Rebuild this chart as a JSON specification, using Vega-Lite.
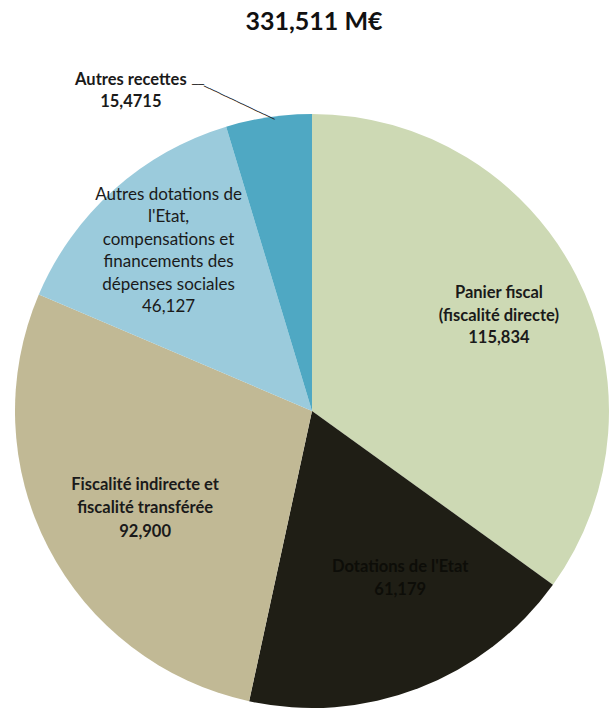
{
  "$schema": "https://vega.github.io/schema/vega-lite/v6.json",
  "width": 600,
  "height": 602,
  "autosize": "none",
  "padding": {"left": 12, "top": 110, "right": 0, "bottom": 1},
  "background": "white",
  "title": {"text": "331,511 M€", "font": "Lato", "fontSize": 25, "fontWeight": "bold", "color": "#111111", "anchor": "middle", "frame": "group", "offset": 37, "dx": 2},
  "view": {"stroke": null},
  "data": {"values": [
    {"categorie": "Panier fiscal (fiscalité directe)", "valeur": 115.834, "ordre": 1, "libelle": ["Panier fiscal", "(fiscalité directe)", "115,834"]},
    {"categorie": "Dotations de l'Etat", "valeur": 61.179, "ordre": 2, "libelle": ["Dotations de l'Etat", "61,179"]},
    {"categorie": "Fiscalité indirecte et fiscalité transférée", "valeur": 92.9, "ordre": 3, "libelle": ["Fiscalité indirecte et", "fiscalité transférée", "92,900"]},
    {"categorie": "Autres dotations de l'Etat, compensations et financements des dépenses sociales", "valeur": 46.127, "ordre": 4, "libelle": ["Autres dotations de", "l'Etat,", "compensations et", "financements des", "dépenses sociales", "46,127"]},
    {"categorie": "Autres recettes", "valeur": 15.4715, "ordre": 5, "libelle": ["Autres recettes", "15,4715"]}
  ]},
  "encoding": {
    "theta": {"field": "valeur", "type": "quantitative", "stack": true},
    "order": {"field": "ordre", "type": "quantitative", "sort": "ascending"}
  },
  "layer": [
    {
      "mark": {"type": "arc", "outerRadius": 297, "strokeWidth": 0},
      "encoding": {
        "color": {
          "field": "categorie", "type": "nominal", "legend": null,
          "scale": {
            "domain": ["Panier fiscal (fiscalité directe)", "Dotations de l'Etat", "Fiscalité indirecte et fiscalité transférée", "Autres dotations de l'Etat, compensations et financements des dépenses sociales", "Autres recettes"],
            "range": ["#CDD9B4", "#1F1E15", "#C1B995", "#9BCBDC", "#4FA8C3"]
          }
        }
      }
    },
    {
      "mark": {"type": "text", "radius": 210, "dy": -22, "font": "Lato", "fontSize": 16.5, "fontWeight": "bold", "lineHeight": 22.5, "color": "#1a1a1a", "align": "center", "baseline": "middle"},
      "encoding": {"text": {"condition": {"test": "datum.ordre === 1", "field": "libelle", "type": "nominal"}, "value": ""}}
    },
    {
      "mark": {"type": "text", "radius": 189, "thetaOffset": -0.119, "dy": -11, "font": "Lato", "fontSize": 16.5, "fontWeight": "bold", "lineHeight": 22.5, "color": "#0d0d08", "align": "center", "baseline": "middle"},
      "encoding": {"text": {"condition": {"test": "datum.ordre === 2", "field": "libelle", "type": "nominal"}, "value": ""}}
    },
    {
      "mark": {"type": "text", "radius": 193, "thetaOffset": -0.049, "dy": -23, "font": "Lato", "fontSize": 16.5, "fontWeight": "bold", "lineHeight": 23.5, "color": "#1a1a1a", "align": "center", "baseline": "middle"},
      "encoding": {"text": {"condition": {"test": "datum.ordre === 3", "field": "libelle", "type": "nominal"}, "value": ""}}
    },
    {
      "mark": {"type": "text", "radius": 215, "dy": -56, "font": "Lato", "fontSize": 17, "fontWeight": "normal", "lineHeight": 22.5, "color": "#1a1a1a", "align": "center", "baseline": "middle"},
      "encoding": {"text": {"condition": {"test": "datum.ordre === 4", "field": "libelle", "type": "nominal"}, "value": ""}}
    },
    {
      "mark": {"type": "text", "radius": 368, "thetaOffset": -0.368, "dy": -11, "font": "Lato", "fontSize": 16.5, "fontWeight": "bold", "lineHeight": 22, "color": "#1a1a1a", "align": "center", "baseline": "middle"},
      "encoding": {"text": {"condition": {"test": "datum.ordre === 5", "field": "libelle", "type": "nominal"}, "value": ""}}
    },
    {
      "mark": {"type": "text", "radius": 316.5, "thetaOffset": -0.0855, "angle": 25.3, "font": "DejaVu Sans Mono", "fontSize": 10, "color": "#222222", "align": "center", "baseline": "middle"},
      "encoding": {"text": {"condition": {"test": "datum.ordre === 5", "value": "─────────────"}, "value": ""}}
    },
    {
      "mark": {"type": "text", "radius": 345, "thetaOffset": -0.19, "font": "DejaVu Sans Mono", "fontSize": 10, "color": "#222222", "align": "center", "baseline": "middle"},
      "encoding": {"text": {"condition": {"test": "datum.ordre === 5", "value": "──"}, "value": ""}}
    }
  ]
}
